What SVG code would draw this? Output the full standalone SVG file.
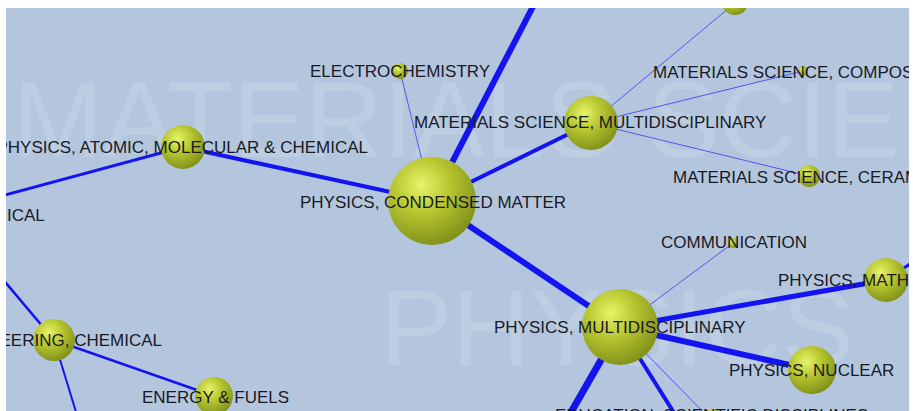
<svg xmlns="http://www.w3.org/2000/svg" width="913" height="411" viewBox="0 0 913 411">
<defs>
<radialGradient id="ball" cx="0.38" cy="0.32" r="0.7">
<stop offset="0" stop-color="#e6f56a"/>
<stop offset="0.45" stop-color="#b8c630"/>
<stop offset="1" stop-color="#82921a"/>
</radialGradient>
<clipPath id="panel"><rect x="6" y="8" width="903" height="403"/></clipPath>
</defs>
<style>
.wm{font-family:"Liberation Sans",Arial,sans-serif;font-size:108px;fill:#ffffff;fill-opacity:0.13}
.lbl{font-family:"Liberation Sans",Arial,sans-serif;font-size:17px;fill:#181a26}
.e{stroke:#1414f0;stroke-linecap:round;fill:none}
.thin{stroke:#3a3af0;stroke-width:1;stroke-opacity:0.8}
.n{fill:url(#ball)}
</style>
<rect width="913" height="411" fill="#ffffff"/>
<g clip-path="url(#panel)">
<rect x="6" y="8" width="903" height="403" fill="#b4c6de"/>
<text class="wm" x="13" y="157">MATERIALS SCIENCE</text>
<text class="wm" x="380" y="365">PHYSICS</text>
<g id="connectors">
<line class="e" x1="432" y1="201" x2="539" y2="-5" stroke-width="6"/>
<line class="e" x1="432" y1="201" x2="591" y2="123" stroke-width="4"/>
<line class="e" x1="432" y1="201" x2="620" y2="327" stroke-width="6"/>
<line class="e" x1="432" y1="201" x2="183" y2="147" stroke-width="4"/>
<line class="e thin" x1="432" y1="201" x2="400" y2="71"/>
<line class="e" x1="183" y1="147" x2="-10" y2="199" stroke-width="3"/>
<line class="e thin" x1="591" y1="123" x2="735" y2="3" stroke-width="1.5"/>
<line class="e thin" x1="591" y1="123" x2="803" y2="71"/>
<line class="e thin" x1="591" y1="123" x2="809" y2="176"/>
<line class="e thin" x1="620" y1="327" x2="733" y2="243"/>
<line class="e" x1="620" y1="327" x2="886" y2="280" stroke-width="5"/>
<line class="e" x1="620" y1="327" x2="812" y2="370" stroke-width="6"/>
<line class="e" x1="620" y1="327" x2="558" y2="435" stroke-width="7"/>
<line class="e" x1="620" y1="327" x2="688" y2="435" stroke-width="4"/>
<line class="e thin" x1="620" y1="327" x2="712" y2="421"/>
<line class="e" x1="886" y1="280" x2="925" y2="254" stroke-width="3"/>
<line class="e" x1="54" y1="340" x2="-5" y2="270" stroke-width="2.5"/>
<line class="e" x1="54" y1="340" x2="214" y2="396" stroke-width="2.5"/>
<line class="e" x1="54" y1="340" x2="80" y2="425" stroke-width="2"/>
</g>
<g id="n-top"><circle class="n" cx="735" cy="2" r="13"/></g>
<g id="n-electrochemistry"><circle class="n" cx="400" cy="71" r="8"/><text class="lbl" x="310" y="77">ELECTROCHEMISTRY</text></g>
<g id="n-ms-composites"><circle class="n" cx="803" cy="71" r="5"/><text class="lbl" x="653" y="78">MATERIALS SCIENCE, COMPOSITES</text></g>
<g id="n-ms-multi"><circle class="n" cx="591" cy="123" r="27"/><text class="lbl" x="414" y="128">MATERIALS SCIENCE, MULTIDISCIPLINARY</text></g>
<g id="n-ms-ceramics"><circle class="n" cx="809" cy="176" r="11"/><text class="lbl" x="673" y="183">MATERIALS SCIENCE, CERAMICS</text></g>
<g id="n-atomic"><circle class="n" cx="183" cy="147" r="22"/><text class="lbl" x="368" y="153" text-anchor="end">PHYSICS, ATOMIC, MOLECULAR &amp; CHEMICAL</text></g>
<g id="n-ical"><text class="lbl" x="7" y="221">ICAL</text></g>
<g id="n-condensed"><circle class="n" cx="432" cy="201" r="44"/><text class="lbl" x="300" y="208">PHYSICS, CONDENSED MATTER</text></g>
<g id="n-communication"><circle class="n" cx="733" cy="243" r="5"/><text class="lbl" x="661" y="248">COMMUNICATION</text></g>
<g id="n-math"><circle class="n" cx="886" cy="280" r="22"/><text class="lbl" x="778" y="286">PHYSICS, MATHEMATICAL</text></g>
<g id="n-phys-multi"><circle class="n" cx="620" cy="327" r="38"/><text class="lbl" x="494" y="333">PHYSICS, MULTIDISCIPLINARY</text></g>
<g id="n-nuclear"><circle class="n" cx="812" cy="370" r="24"/><text class="lbl" x="729" y="376">PHYSICS, NUCLEAR</text></g>
<g id="n-eng-chem"><circle class="n" cx="54" cy="340" r="21"/><text class="lbl" x="162" y="346" text-anchor="end">ENGINEERING, CHEMICAL</text></g>
<g id="n-energy"><circle class="n" cx="214" cy="396" r="19"/><text class="lbl" x="142" y="403">ENERGY &amp; FUELS</text></g>
<g id="n-education"><circle class="n" cx="712" cy="421" r="12"/><text class="lbl" x="555" y="420.5">EDUCATION, SCIENTIFIC DISCIPLINES</text></g>
</g>
</svg>
